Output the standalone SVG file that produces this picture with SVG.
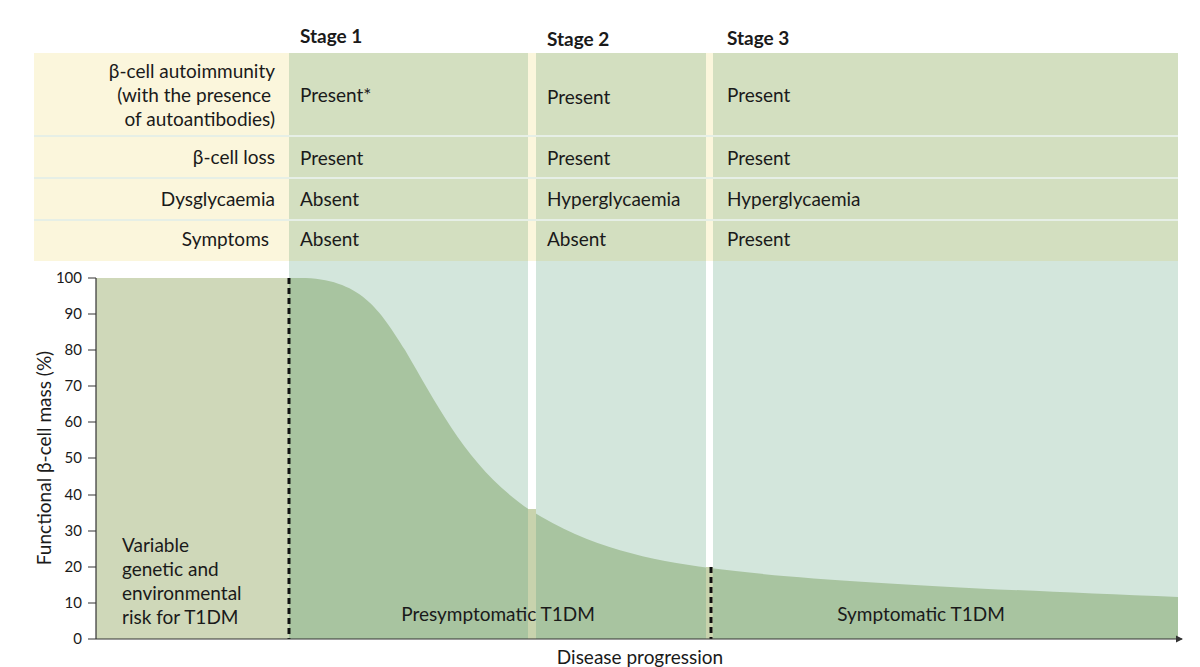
<svg xmlns="http://www.w3.org/2000/svg" width="1200" height="667" viewBox="0 0 1200 667">
<style>
text{font-family:"Lato","Liberation Sans",sans-serif;fill:#1a1a1a}
.c{font-size:19px}
.l{font-size:19px;text-anchor:end}
.h{font-size:19px;font-weight:bold}
.t{font-size:15px;text-anchor:end}
.ax{stroke:#333;stroke-width:1.2;fill:none}
.d{stroke:#111;stroke-width:3;stroke-dasharray:6,4}
</style>
<defs><marker id="ar" markerWidth="6" markerHeight="6" refX="5" refY="3" orient="auto"><path d="M0,0 L6,3 L0,6z" fill="#333"/></marker></defs>
<rect width="1200" height="667" fill="#fff"/>
<g id="table">
<rect x="34" y="53" width="1144" height="208" fill="#fbf6dc"/>
<rect x="289" y="53" width="239" height="208" fill="#d3dfc0"/>
<rect x="536" y="53" width="170" height="208" fill="#d3dfc0"/>
<rect x="713" y="53" width="465" height="208" fill="#d3dfc0"/>
<g stroke="#e6efe6" stroke-width="2"><line x1="34" y1="136" x2="1178" y2="136"/><line x1="34" y1="178" x2="1178" y2="178"/><line x1="34" y1="220" x2="1178" y2="220"/></g>
<text class="h" x="300" y="43">Stage 1</text><text class="h" x="547" y="46">Stage 2</text><text class="h" x="727" y="45">Stage 3</text>
<text class="l" x="275" y="78">β-cell autoimmunity</text><text class="l" x="271" y="102">(with the presence</text><text class="l" x="275" y="126">of autoantibodies)</text>
<text class="l" x="275" y="164">β-cell loss</text><text class="l" x="275" y="206">Dysglycaemia</text><text class="l" x="269" y="246">Symptoms</text>
<text class="c" x="300" y="102">Present*</text><text class="c" x="547" y="104">Present</text><text class="c" x="727" y="102">Present</text>
<text class="c" x="300" y="165">Present</text><text class="c" x="547" y="165">Present</text><text class="c" x="727" y="165">Present</text>
<text class="c" x="300" y="206">Absent</text><text class="c" x="547" y="206">Hyperglycaemia</text><text class="c" x="727" y="206">Hyperglycaemia</text>
<text class="c" x="300" y="246">Absent</text><text class="c" x="547" y="246">Absent</text><text class="c" x="727" y="246">Present</text>
</g>
<g id="chart">
<rect x="289" y="261" width="889" height="378" fill="#d3e6dc"/>
<rect x="96" y="278" width="193" height="361" fill="#cfd8b9"/>
<path d="M289,278 L300,278 C360,278 380,310 405,350 C440,410 470,470 530,510 C590,548 650,560 710,568 C800,580 950,588 1178,597 L1178,639 L289,639Z" fill="#a8c4a0"/>
<rect x="528" y="261" width="8" height="250" fill="#fff"/>
<rect x="528" y="509" width="8" height="130" fill="#c8d3ad"/>
<rect x="706" y="261" width="7" height="307" fill="#fff"/>
<rect x="706" y="567" width="7" height="72" fill="#c8d3ad"/>
<line class="d" x1="289" y1="278" x2="289" y2="639"/>
<line class="d" x1="711" y1="567" x2="711" y2="639"/>
<line class="ax" x1="96" y1="278" x2="96" y2="639"/>
<line class="ax" x1="96" y1="639" x2="1182" y2="639" marker-end="url(#ar)"/>
<g class="ax"><path d="M88,278H96M88,314H96M88,350H96M88,386H96M88,422H96M88,458H96M88,495H96M88,531H96M88,567H96M88,603H96M88,639H96"/></g>
<text class="t" x="82" y="283">100</text><text class="t" x="82" y="319">90</text><text class="t" x="82" y="355">80</text><text class="t" x="82" y="391">70</text><text class="t" x="82" y="427">60</text><text class="t" x="82" y="463">50</text><text class="t" x="82" y="500">40</text><text class="t" x="82" y="536">30</text><text class="t" x="82" y="572">20</text><text class="t" x="82" y="608">10</text><text class="t" x="82" y="644">0</text>
<text class="c" transform="translate(51,458) rotate(-90)" text-anchor="middle">Functional β-cell mass (%)</text>
<text class="c" x="122" y="552">Variable</text><text class="c" x="122" y="576">genetic and</text><text class="c" x="122" y="600">environmental</text><text class="c" x="122" y="624">risk for T1DM</text>
<text class="c" x="498" y="621" text-anchor="middle">Presymptomatic T1DM</text>
<text class="c" x="921" y="621" text-anchor="middle">Symptomatic T1DM</text>
<text class="c" x="640" y="664" text-anchor="middle">Disease progression</text>
</g>
</svg>
